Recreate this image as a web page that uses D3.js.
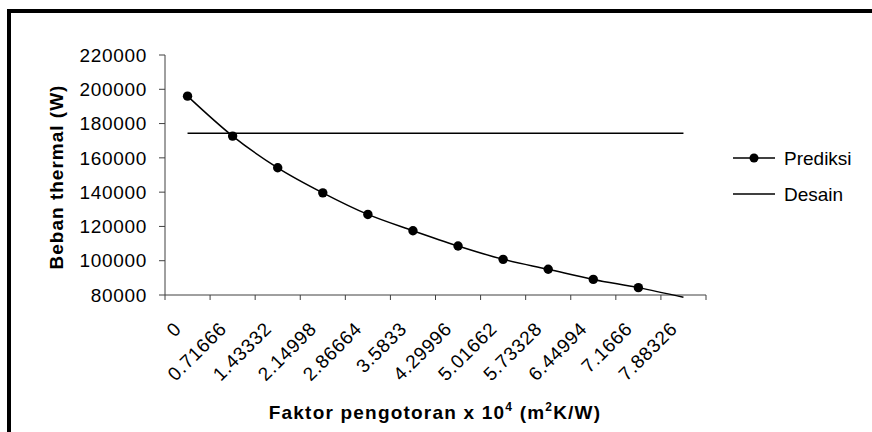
<!DOCTYPE html>
<html><head><meta charset="utf-8">
<script src="https://cdn.jsdelivr.net/npm/d3@7"></script>
<style>
html,body{margin:0;padding:0;background:#fff;}
svg{display:block;font-family:"Liberation Sans",Arial,sans-serif;}
</style></head>
<body><svg id="c" width="872" height="432"></svg>
<script>
const categories = ["0","0.71666","1.43332","2.14998","2.86664","3.5833","4.29996","5.01662","5.73328","6.44994","7.1666","7.88326"];
const prediksi = [196000,172700,154200,139600,127000,117500,108600,100800,95000,89100,84300,78700];
const desain = [174300,174300,174300,174300,174300,174300,174300,174300,174300,174300,174300,174300];
const yTicks = [80000,100000,120000,140000,160000,180000,200000,220000];
const seriesNames = ["Prediksi","Desain"];

const svg = d3.select("#c");
const L=165, R=706, T=55, B=295;
const x = d3.scaleBand().domain(categories).range([L,R]).paddingInner(0).paddingOuter(0);
const y = d3.scaleLinear().domain([80000,220000]).range([B,T]);
const cx = c => x(c) + x.bandwidth()/2;

// outer frame
svg.append("rect").attr("x",9).attr("y",11).attr("width",900).attr("height",500)
  .attr("fill","none").attr("stroke","#000").attr("stroke-width",4);

const axisCol="#404040";
// y axis
const gy = svg.append("g");
gy.append("line").attr("x1",L).attr("x2",L).attr("y1",T).attr("y2",B).attr("stroke",axisCol);
yTicks.forEach(v=>{
  gy.append("line").attr("x1",L-6).attr("x2",L).attr("y1",y(v)).attr("y2",y(v)).attr("stroke",axisCol);
  gy.append("text").attr("x",147).attr("y",y(v)).attr("dy","0.35em").attr("text-anchor","end")
    .attr("font-size",19).attr("letter-spacing",0.7).text(v);
});
// x axis
const gx = svg.append("g");
gx.append("line").attr("x1",L).attr("x2",R).attr("y1",B).attr("y2",B).attr("stroke",axisCol);
const bounds = categories.map(c=>x(c)).concat([R]);
bounds.forEach(b=>{
  gx.append("line").attr("x1",b).attr("x2",b).attr("y1",B).attr("y2",B+5).attr("stroke",axisCol);
});
categories.forEach(c=>{
  const ax = cx(c)-5, ay = 330;
  gx.append("text").attr("transform",`translate(${ax},${ay}) rotate(-45)`)
    .attr("text-anchor","end").attr("font-size",19).attr("letter-spacing",0.7).text(c);
});

// desain line
const line = d3.line().x((d,i)=>cx(categories[i])).y(d=>y(d));
svg.append("path").attr("d",line(desain)).attr("fill","none").attr("stroke","#000").attr("stroke-width",1.5);
// prediksi smooth line
const sline = d3.line().x((d,i)=>cx(categories[i])).y(d=>y(d)).curve(d3.curveCatmullRom.alpha(0));
svg.append("path").attr("d",sline(prediksi)).attr("fill","none").attr("stroke","#000").attr("stroke-width",1.5);
prediksi.forEach((v,i)=>{
  if(v < y.domain()[0]) return;
  svg.append("circle").attr("cx",cx(categories[i])).attr("cy",y(v)).attr("r",4.7).attr("fill","#000");
});

// legend
const lg = svg.append("g");
[[seriesNames[0],158,true],[seriesNames[1],194,false]].forEach(([n,ly,m])=>{
  lg.append("line").attr("x1",733).attr("x2",775).attr("y1",ly).attr("y2",ly).attr("stroke","#000").attr("stroke-width",1.5);
  if(m) lg.append("circle").attr("cx",754).attr("cy",ly).attr("r",4.5).attr("fill","#000");
  lg.append("text").attr("x",784).attr("y",ly).attr("dy","0.35em").attr("font-size",19).text(n);
});

// axis titles
const xt = svg.append("text").attr("x",435).attr("y",419).attr("text-anchor","middle")
  .attr("font-size",19).attr("font-weight","bold").attr("letter-spacing",1.2);
xt.append("tspan").text("Faktor pengotoran x 10");
xt.append("tspan").attr("font-size",12).attr("dy",-8).text("4");
xt.append("tspan").attr("dy",8).text(" (m");
xt.append("tspan").attr("font-size",12).attr("dy",-8).text("2");
xt.append("tspan").attr("dy",8).text("K/W)");

svg.append("text").attr("transform","translate(63,177) rotate(-90)").attr("text-anchor","middle")
  .attr("font-size",19).attr("font-weight","bold").attr("letter-spacing",1).text("Beban thermal (W)");
</script></body></html>
